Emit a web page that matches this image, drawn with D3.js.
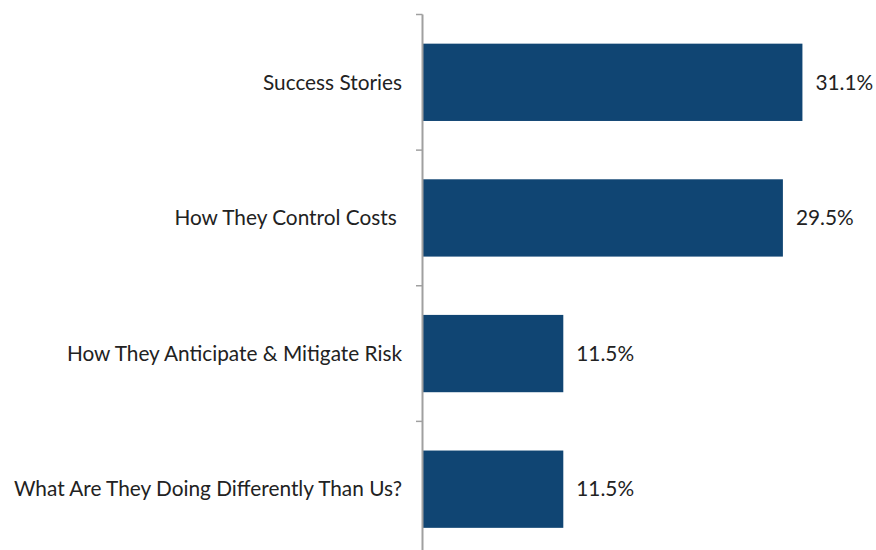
<!DOCTYPE html>
<html>
<head>
<meta charset="utf-8">
<script src="https://cdn.jsdelivr.net/npm/d3@7"></script>
<style>
  html, body { margin: 0; padding: 0; background: #ffffff; }
  svg { display: block; }
</style>
</head>
<body>
<svg id="chart" width="876" height="550"></svg>
<script>
// Survey topics and the share of respondents choosing each
const categories = [
  "Success Stories",
  "How They Control Costs ",
  "How They Anticipate & Mitigate Risk",
  "What Are They Doing Differently Than Us?"
];
const values = [31.1, 29.5, 11.5, 11.5];
const valueLabels = ["31.1%", "29.5%", "11.5%", "11.5%"];

const svg = d3.select("#chart");
const font = "Lato, 'Open Sans', sans-serif";
const fontSize = 20.8;

const axisX = 423;
const x = d3.scaleLinear().domain([0, 35]).range([axisX, axisX + 427]);
const y = d3.scaleBand()
  .domain(categories)
  .range([14.5, 557])
  .paddingInner(0.43)
  .paddingOuter(0.215);

// Bars
svg.append("g").selectAll("rect")
  .data(values)
  .join("rect")
  .attr("x", x(0))
  .attr("y", (d, i) => y(categories[i]))
  .attr("width", d => x(d) - x(0))
  .attr("height", y.bandwidth())
  .attr("fill", "#104573");

// Value labels at bar ends
svg.append("g").selectAll("text")
  .data(values)
  .join("text")
  .attr("x", d => x(d) + 13)
  .attr("y", (d, i) => y(categories[i]) + y.bandwidth() / 2)
  .attr("dy", "0.35em")
  .attr("font-family", font)
  .attr("font-size", fontSize)
  .attr("fill", "#222222")
  .text((d, i) => valueLabels[i]);

// Category axis with tick marks between bands
const axisG = svg.append("g");
const bounds = [14.5].concat(categories.map(c => y(c) + y.bandwidth() + y.step() * y.paddingInner() / 2));
axisG.append("line")
  .attr("x1", axisX - 0.5).attr("x2", axisX - 0.5)
  .attr("y1", 14.5).attr("y2", 557)
  .attr("stroke", "#a0a0a0").attr("stroke-width", 2);
axisG.selectAll("line.tick")
  .data(bounds)
  .join("line")
  .attr("class", "tick")
  .attr("x1", axisX - 7).attr("x2", axisX - 0.5)
  .attr("y1", d => d).attr("y2", d => d)
  .attr("stroke", "#a0a0a0").attr("stroke-width", 1.5);

axisG.selectAll("text")
  .data(categories)
  .join("text")
  .attr("x", 402)
  .attr("y", d => y(d) + y.bandwidth() / 2)
  .attr("dy", "0.35em")
  .attr("text-anchor", "end")
  .attr("xml:space", "preserve")
  .style("white-space", "pre")
  .attr("font-family", font)
  .attr("font-size", fontSize)
  .attr("fill", "#222222")
  .text(d => d);
</script>
</body>
</html>
